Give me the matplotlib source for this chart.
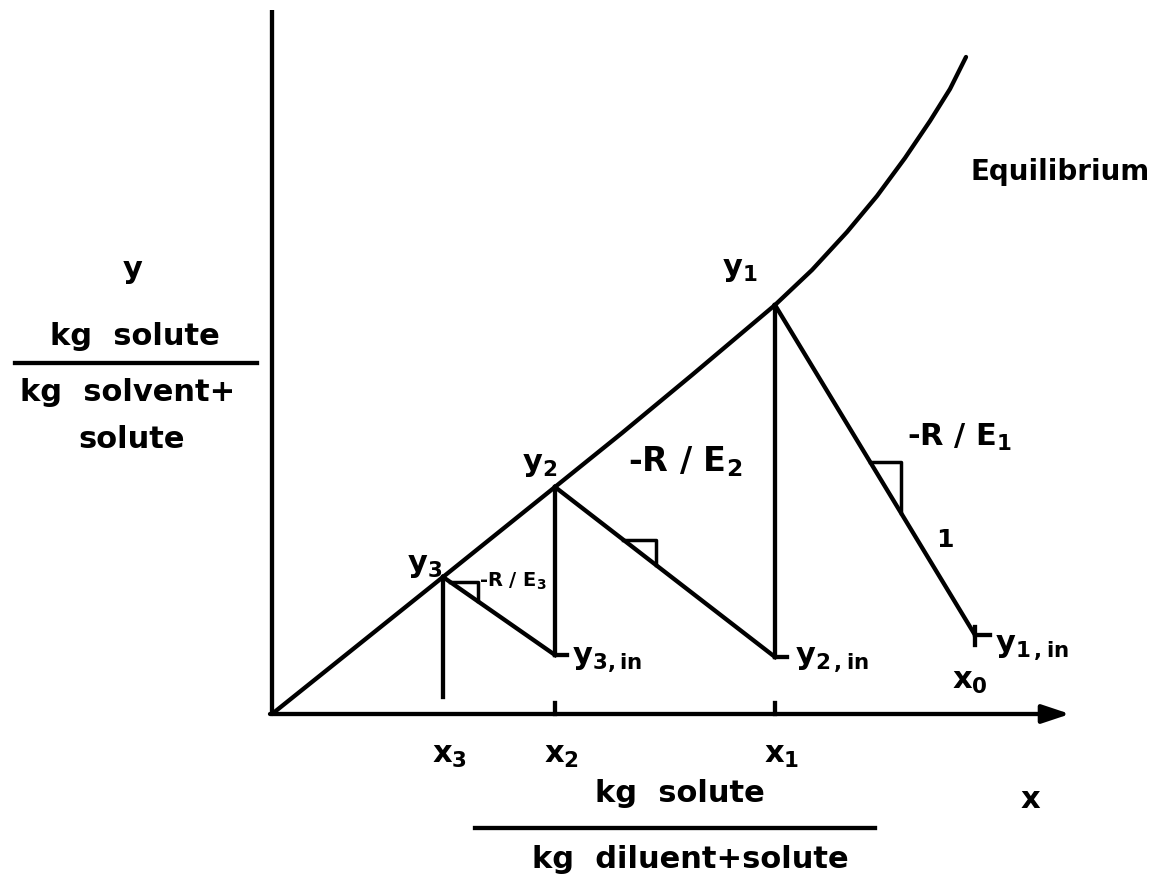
import numpy as np
import matplotlib.pyplot as plt

plt.rcParams['font.family'] = ['DejaVu Sans']
plt.rcParams['font.weight'] = 'bold'
plt.rcParams['mathtext.default'] = 'regular'

# Equilibrium curve (x, y)
eq_x = [0.0, 1.71, 2.83, 3.50, 4.20, 5.03, 5.40, 5.75, 6.05, 6.33, 6.58, 6.78, 6.94]
eq_y = [0.0, 1.37, 2.27, 2.81, 3.39, 4.09, 4.44, 4.82, 5.18, 5.56, 5.93, 6.25, 6.57]

# Stages 1..3: point on equilibrium and the entering point of each operating line
stage_x = [5.03, 2.83, 1.71]
stage_y = [4.09, 2.27, 1.37]
in_x = [7.03, 5.03, 2.83]
in_y = [0.79, 0.57, 0.59]
# lower end of the vertical drawn under each stage point
drop_y = [0.57, 0.59, 0.17]
# slope triangles: position along operating line and horizontal run
tri_t = [0.475, 0.31, 0.06]
tri_run = [0.31, 0.33, 0.28]

fig = plt.figure(figsize=(11.59, 8.86), dpi=100)
ax = fig.add_axes([0, 0, 1, 1])
ax.set_xlim(-2.72, 8.87)
ax.set_ylim(-1.72, 7.14)
ax.axis('off')

lw = 3.1
k = 'black'

# axes
ax.plot([0, 0], [0, 7.04], color=k, lw=lw, solid_capstyle='butt')
ax.annotate('', xy=(7.98, 0), xytext=(-0.02, 0),
            arrowprops=dict(arrowstyle='-|>,head_length=0.6,head_width=0.2',
                            lw=lw, color=k, mutation_scale=28,
                            shrinkA=0, shrinkB=0))

# equilibrium curve
ax.plot(eq_x, eq_y, color=k, lw=lw, solid_capstyle='round', solid_joinstyle='round')

for i in range(3):
    x0, y0, x1, y1 = stage_x[i], stage_y[i], in_x[i], in_y[i]
    ax.plot([x0, x1], [y0, y1], color=k, lw=lw)
    ax.plot([x0, x0], [y0, drop_y[i]], color=k, lw=lw)
    # slope triangle
    slope = (y1 - y0) / (x1 - x0)
    tx = x0 + tri_t[i] * (x1 - x0)
    ty = y0 + tri_t[i] * (y1 - y0)
    rx = tx + tri_run[i]
    ax.plot([tx, rx, rx], [ty, ty, ty + slope * tri_run[i]], color=k, lw=2.5)

# small marks at the feed points and on the x axis
ax.plot([in_x[1], in_x[1] + 0.12], [in_y[1], in_y[1]], color=k, lw=lw)
ax.plot([in_x[2], in_x[2] + 0.12], [in_y[2], in_y[2]], color=k, lw=lw)
ax.plot([in_x[0], in_x[0]], [in_y[0] - 0.1, in_y[0] + 0.08], color=k, lw=lw)
ax.plot([in_x[0], in_x[0] + 0.15], [in_y[0], in_y[0]], color=k, lw=lw)
for xt in stage_x[:2]:
    ax.plot([xt, xt], [0, 0.11], color=k, lw=lw)

fs = 22
ax.text(7.88, 5.42, 'Equilibrium', fontsize=20, ha='center', va='center')
ax.text(4.68, 4.44, 'y$_1$', fontsize=fs, ha='center', va='center')
ax.text(2.68, 2.49, 'y$_2$', fontsize=fs, ha='center', va='center')
ax.text(1.53, 1.49, 'y$_3$', fontsize=fs, ha='center', va='center')
ax.text(6.88, 2.77, '-R / E$_1$', fontsize=fs, ha='center', va='center')
ax.text(4.13, 2.52, '-R / E$_2$', fontsize=24, ha='center', va='center')
ax.text(2.41, 1.33, '-R / E$_3$', fontsize=14, ha='center', va='center')
ax.text(6.73, 1.74, '1', fontsize=18, ha='center', va='center')
ax.text(3.0, 0.54, 'y$_{3,in}$', fontsize=fs, ha='left', va='center')
ax.text(5.23, 0.54, 'y$_{2\\,,in}$', fontsize=fs, ha='left', va='center')
ax.text(7.23, 0.66, 'y$_{1\\,,in}$', fontsize=fs, ha='left', va='center')
ax.text(6.98, 0.32, 'x$_0$', fontsize=fs, ha='center', va='center')

for xt, lab in zip(stage_x, ['x$_1$', 'x$_2$', 'x$_3$']):
    ax.text(xt + 0.07, -0.41, lab, fontsize=fs, ha='center', va='center')
ax.text(7.58, -0.86, 'x', fontsize=fs, ha='center', va='center')

# x axis units
ax.text(4.08, -0.79, 'kg  solute', fontsize=fs, ha='center', va='center')
ax.plot([2.03, 6.03], [-1.14, -1.14], color=k, lw=lw)
ax.text(4.18, -1.46, 'kg  diluent+solute', fontsize=fs, ha='center', va='center')

# y axis units
ax.text(-1.39, 4.44, 'y', fontsize=fs, ha='center', va='center')
ax.text(-1.37, 3.77, 'kg  solute', fontsize=fs, ha='center', va='center')
ax.plot([-2.57, -0.15], [3.51, 3.51], color=k, lw=lw)
ax.text(-1.44, 3.21, 'kg  solvent+', fontsize=fs, ha='center', va='center')
ax.text(-1.40, 2.74, 'solute', fontsize=fs, ha='center', va='center')

fig.savefig('out.png', dpi=100)
